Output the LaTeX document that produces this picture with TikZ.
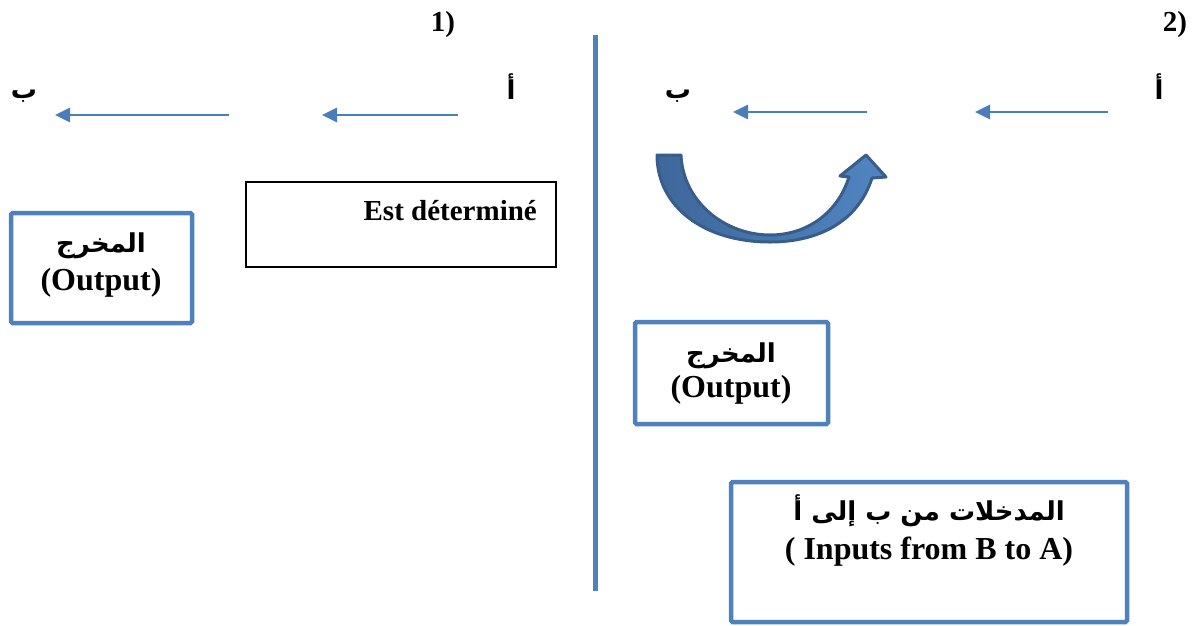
\documentclass[tikz,border=0pt]{standalone}
\usepackage{fontspec}
\setmainfont{Liberation Serif}
\newfontfamily\arabicfont[Script=Arabic]{DejaVu Sans}
\TeXXeTstate=1
\usetikzlibrary{arrows.meta}
\definecolor{boxblue}{HTML}{4F81BD}
\definecolor{arrowblue}{HTML}{4A7EBB}
\definecolor{curvelight}{HTML}{5185C2}
\definecolor{curvedark}{HTML}{3F679A}
\definecolor{curveedge}{HTML}{385D8A}

\begin{document}
\begin{tikzpicture}[x=1pt,y=-1pt,
  lat/.style={font=\fontsize{32}{38}\selectfont\bfseries, inner sep=0pt},
  latsmall/.style={font=\fontsize{29}{34}\selectfont\bfseries, inner sep=0pt},
  arb/.style={font=\arabicfont\fontsize{26}{30}\selectfont\bfseries, inner sep=0pt},
  bluebox/.style={draw=boxblue, line width=4.5pt, rounded corners=1.5pt, inner sep=0pt},
  blackbox/.style={draw=black, line width=1.6pt, inner sep=0pt},
  flow/.style={draw=arrowblue, line width=2.8pt, -{Triangle[length=15pt,width=14pt]}},
  divider/.style={draw=boxblue, line width=5pt},
  uturn/.style={left color=curvedark, right color=curvelight, draw=curveedge, line width=3pt, line join=round}
]
\useasboundingbox (0,0) rectangle (1198,625);

% panel numbers
\node[latsmall] (n1) at (443,25) {1)};
\node[latsmall] (n2) at (1175,25) {2)};

% dividing line
\coordinate (divtop) at (595.5,35);
\coordinate (divbot) at (595.5,591);
\draw[divider] (divtop) -- (divbot);

% ---- panel 1 ----
\node[arb] (a1) at (511,87) {\beginR أ\endR};
\node[arb] (b1) at (24,96) {\beginR ب\endR};
\coordinate (p1a) at (458,115);
\coordinate (p1b) at (322,115);
\coordinate (p1c) at (229,115);
\coordinate (p1d) at (55,115);
\draw[flow] (p1a) -- (p1b);
\draw[flow] (p1c) -- (p1d);

\node[blackbox, minimum width=310pt, minimum height=85pt] (est) at (401,224.5) {};
\node[latsmall, anchor=east] (esttext) at (537,211) {Est déterminé};

\node[bluebox, minimum width=181pt, minimum height=110pt] (out1) at (101.5,268) {};
\node[arb] (out1ar) at (101,246) {\beginR المخرج\endR};
\node[lat] (out1en) at (101,283) {(Output)};

% ---- panel 2 ----
\node[arb] (a2) at (1159,87) {\beginR أ\endR};
\node[arb] (b2) at (678,96) {\beginR ب\endR};
\coordinate (p2a) at (1108,112);
\coordinate (p2b) at (975,112);
\coordinate (p2c) at (867,112);
\coordinate (p2d) at (733,112);
\draw[flow] (p2a) -- (p2b);
\draw[flow] (p2c) -- (p2d);

% curved return arrow
\path[uturn] (657,155) -- (681,155)
  .. controls (683,202) and (725,235) .. (770,235)
  .. controls (808,235) and (838,212) .. (849,177)
  -- (840,176) -- (866,155) -- (886,177) -- (872,178)
  .. controls (858,222) and (818,242) .. (770,242)
  .. controls (703,242) and (657,206) .. (657,155) -- cycle;

\node[bluebox, minimum width=193pt, minimum height=102pt] (out2) at (731.5,373) {};
\node[arb] (out2ar) at (731,356) {\beginR المخرج\endR};
\node[lat] (out2en) at (731,390) {(Output)};

\node[bluebox, minimum width=396pt, minimum height=140pt] (inp) at (929,552) {};
\node[arb] (inpar) at (929,511) {\beginR المدخلات من ب إلى أ\endR};
\node[lat] (inpen) at (929,552) {( Inputs from B to A)};
\end{tikzpicture}
\end{document}
